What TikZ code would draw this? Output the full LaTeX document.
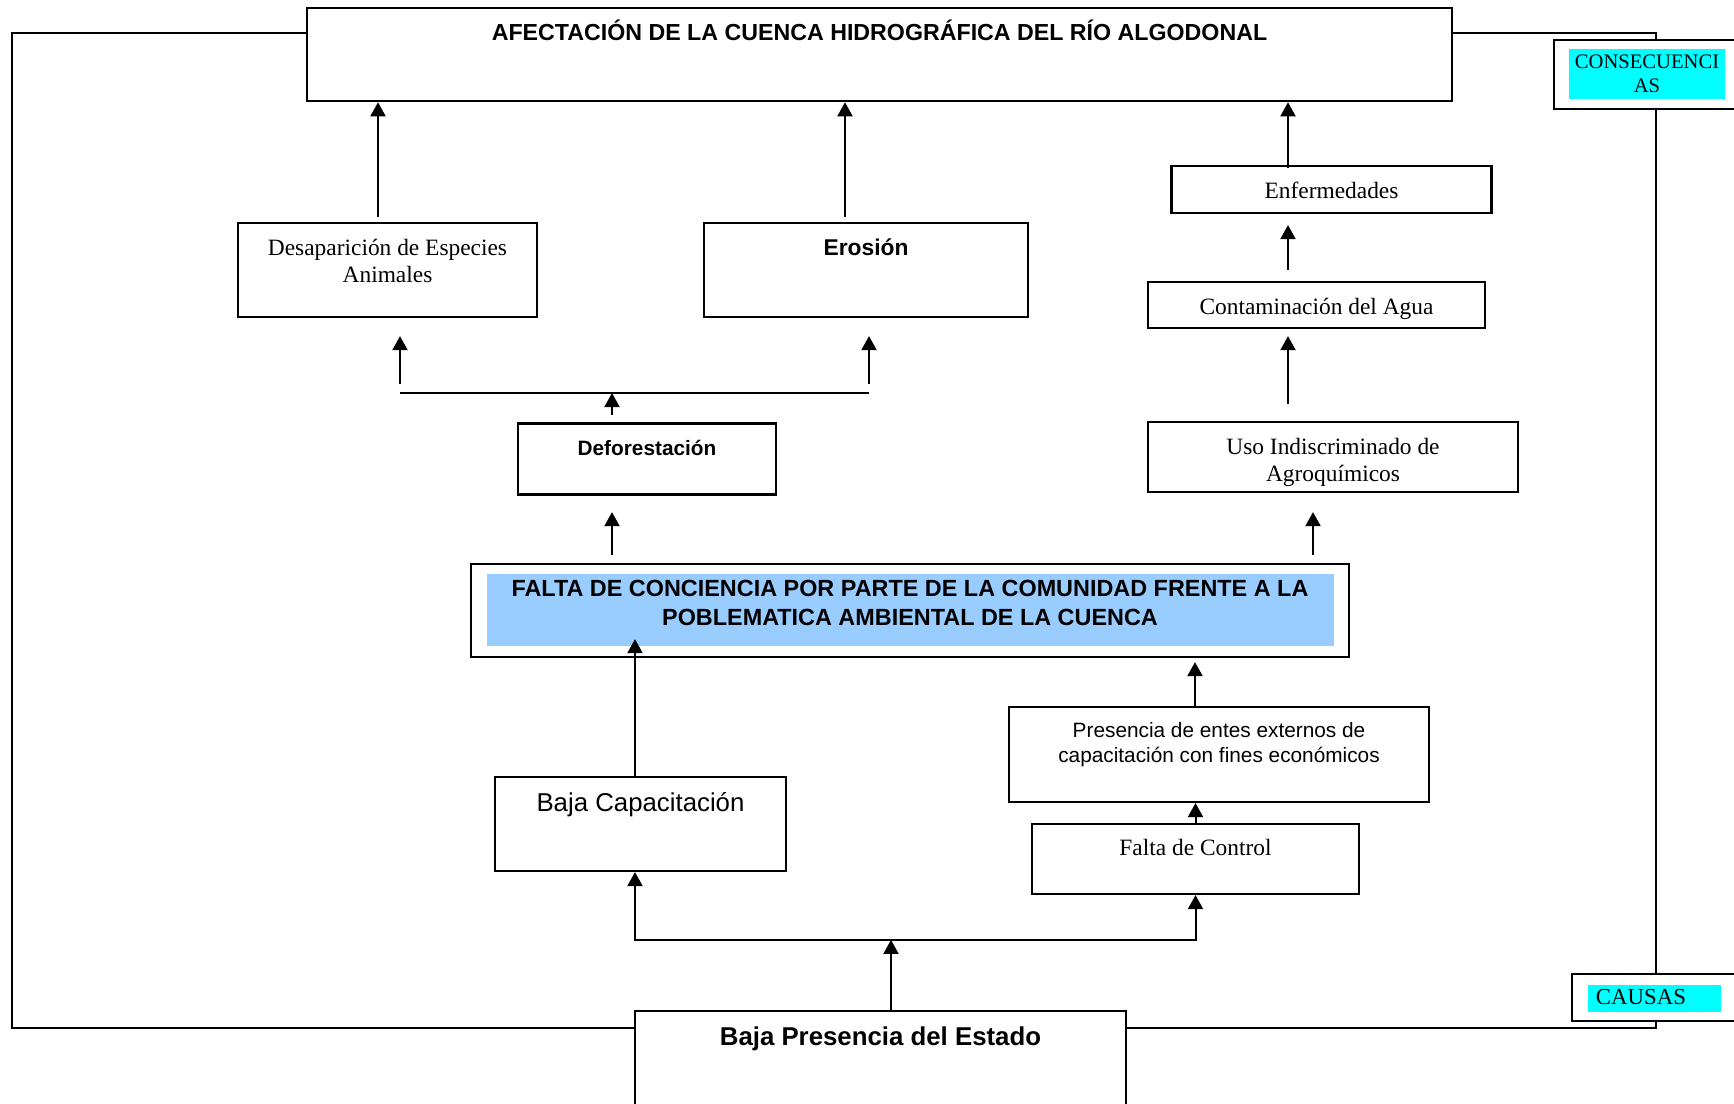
\documentclass[tikz,border=0pt]{standalone}
\usepackage{fontspec}
\setmainfont{Liberation Serif}
\setsansfont{Liberation Sans}
\usetikzlibrary{arrows.meta}
\definecolor{celeste}{HTML}{99CCFF}
\definecolor{cian}{HTML}{00FFFF}
\tikzset{
	caja/.style={draw, fill=white, line width=1.1pt, inner sep=0pt},
	flecha/.style={line width=1pt, -{Triangle[length=7pt,width=7.5pt]}},
	linea/.style={line width=1pt},
	romana/.style={font=\fontsize{11.7}{13.5}\selectfont},
	arial/.style={font=\sffamily\fontsize{#1}{12.5}\selectfont},
	negrita/.style={font=\sffamily\bfseries\fontsize{#1}{14.5}\selectfont},
}

\begin{document}
\begin{tikzpicture}[x=0.5pt, y=-0.5pt]
			%%%%% START %%%%%
			\useasboundingbox (0,0) rectangle (1734,1103);
			\clip (0,0) rectangle (1734,1103);
			
			\draw[line width=1.3pt] (12,33) rectangle (1656,1028);
			
			% consecuencias
			\node[caja, line width=1.3pt, minimum width=572.5pt, minimum height=46.5pt, label={[anchor=base, yshift=-17pt, negrita=11.6]north:AFECTACIÓN DE LA CUENCA HIDROGRÁFICA DEL RÍO ALGODONAL}] (afectacion) at (879.5,54.5) {};
			
			\node[caja, minimum width=149.5pt, minimum height=47pt, label={[anchor=north, yshift=-5.3pt, romana, align=center]north:Desaparición de Especies\\Animales}] (desaparicion) at (387.5,270) {};
			\node[caja, minimum width=162pt, minimum height=47pt, label={[anchor=base, yshift=-17pt, negrita=11.4]north:Erosión}] (erosion) at (866,270) {};
			\node[caja, minimum width=160pt, minimum height=23.5pt, label={[anchor=base, yshift=-17pt, romana]north:Enfermedades}] (enfermedades) at (1331.5,189.5) {};
			\node[caja, minimum width=168.5pt, minimum height=23pt, label={[anchor=base, yshift=-17pt, romana]north:Contaminación del Agua}] (contaminacion) at (1316.5,305) {};
			\node[caja, minimum width=129pt, minimum height=35.5pt, label={[anchor=base, yshift=-16.5pt, negrita=10.4]north:Deforestación}] (deforestacion) at (647,459) {};
			\node[caja, minimum width=185pt, minimum height=35pt, label={[anchor=north, yshift=-5.3pt, romana, align=center]north:Uso Indiscriminado de\\Agroquímicos}] (agroquimicos) at (1333,457) {};
			
			% problema central
			\node[caja, minimum width=439pt, minimum height=46.5pt, path picture={\fill[celeste] ([xshift=8pt,yshift=-5pt]path picture bounding box.north west) rectangle ([xshift=-7.5pt,yshift=5.5pt]path picture bounding box.south east);}, label={[anchor=north, yshift=-5pt, negrita=11.7, align=center]north:FALTA DE CONCIENCIA POR PARTE DE LA COMUNIDAD FRENTE A LA\\POBLEMATICA AMBIENTAL DE LA CUENCA}] (conciencia) at (910,610.5) {};
			
			% causas
			\node[caja, minimum width=210pt, minimum height=47.5pt, label={[anchor=north, yshift=-4.5pt, arial=10.4, align=center]north:Presencia de entes externos de\\capacitación con fines económicos}] (entes) at (1219,754.5) {};
			\node[caja, minimum width=163.5pt, minimum height=35pt, label={[anchor=base, yshift=-16.5pt, romana]north:Falta de Control}] (control) at (1195.5,859) {};
			\node[caja, minimum width=145.5pt, minimum height=47pt, label={[anchor=base, yshift=-18pt, arial=12.9]north:Baja Capacitación}] (capacitacion) at (640.5,824) {};
			\node[caja, minimum width=245.5pt, minimum height=60pt, label={[anchor=base, yshift=-18pt, negrita=12.9]north:Baja Presencia del Estado}] (estado) at (880.5,1071) {};
			
			% rotulos
			\node[caja, minimum width=103pt, minimum height=34.5pt, path picture={\fill[cian] ([xshift=7.5pt,yshift=-4.5pt]path picture bounding box.north west) rectangle ([xshift=-17.5pt,yshift=5pt]path picture bounding box.south east);}, label={[anchor=north, xshift=-5pt, yshift=-4.5pt, font=\fontsize{10.3}{12}\selectfont, align=center]north:CONSECUENCI\\AS}] (consecuencias) at (1657,74.5) {};
			\node[caja, minimum width=94pt, minimum height=23.5pt, path picture={\fill[cian] ([xshift=8pt,yshift=-5.5pt]path picture bounding box.north west) rectangle ([xshift=-19.5pt,yshift=4.5pt]path picture bounding box.south east);}, label={[anchor=base west, xshift=9pt, yshift=-3.5pt, font=\fontsize{11.4}{13}\selectfont]west:CAUSAS}] (causas) at (1666,997.5) {};
			
			% flechas superiores
			\coordinate (f1) at ([xshift=-4.75pt,yshift=2.5pt]desaparicion.north);
			\coordinate (f2) at ([xshift=-10.5pt,yshift=2.5pt]erosion.north);
			\coordinate (f3) at ([xshift=-21.75pt,yshift=-1.5pt]enfermedades.north);
			\draw[flecha] (f1) -- (f1 |- afectacion.south);
			\draw[flecha] (f2) -- (f2 |- afectacion.south);
			\draw[flecha] (f3) -- (f3 |- afectacion.south);
			
			\coordinate (f4) at ([xshift=-14.25pt,yshift=5.5pt]contaminacion.north);
			\draw[flecha, shorten >=5.5pt] (f4) -- (f4 |- enfermedades.south);
			\coordinate (f5) at ([xshift=-22.5pt,yshift=8.5pt]agroquimicos.north);
			\draw[flecha, shorten >=3.5pt] (f5) -- (f5 |- contaminacion.south);
			
			\coordinate (ramaizq) at (400,393);
			\coordinate (ramader) at (869,393);
			\draw[linea] (ramaizq) -- (ramader);
			\draw[flecha, shorten <=4.5pt, shorten >=9pt] (ramaizq) -- (ramaizq |- desaparicion.south);
			\draw[flecha, shorten <=4.5pt, shorten >=9pt] (ramader) -- (ramader |- erosion.south);
			\coordinate (f6) at ([xshift=-17.5pt,yshift=3.75pt]deforestacion.north);
			\draw[flecha] (f6) -- (f6 |- ramaizq);
			
			\coordinate (f7) at ([xshift=-149pt,yshift=4pt]conciencia.north);
			\coordinate (f8) at ([xshift=201.5pt,yshift=4pt]conciencia.north);
			\draw[flecha, shorten >=8.25pt] (f7) -- (f7 |- deforestacion.south);
			\draw[flecha, shorten >=9.5pt] (f8) -- (f8 |- agroquimicos.south);
			
			% flechas inferiores
			\coordinate (f9) at ([xshift=-2.75pt]capacitacion.north);
			\draw[flecha, shorten >=-9.5pt] (f9) -- (f9 |- conciencia.south);
			\coordinate (f10) at ([xshift=-12pt]entes.north);
			\draw[flecha, shorten >=2pt] (f10) -- (f10 |- conciencia.south);
			\draw[flecha] (control.north) -- (control.north |- entes.south);
			
			\coordinate (nudo) at ([xshift=5.25pt,yshift=35pt]estado.north);
			\draw[flecha] ([xshift=5.25pt]estado.north) -- (nudo);
			\draw[flecha] (nudo) -| ([xshift=-2.75pt]capacitacion.south);
			\draw[flecha] (nudo) -| (control.south);
			
			%%%%% END %%%%%
\end{tikzpicture}
\end{document}
